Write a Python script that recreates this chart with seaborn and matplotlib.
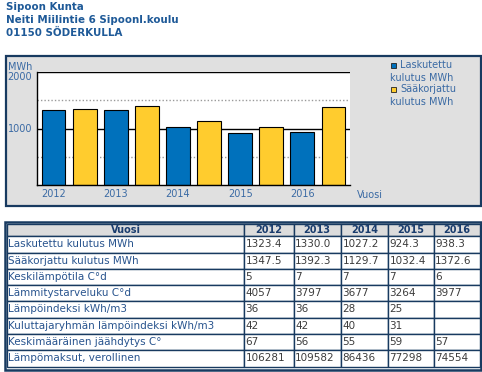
"""
Heating consumption chart + yearly table for one property.
"""
import matplotlib
matplotlib.use("Agg")
import matplotlib.pyplot as plt
from matplotlib.patches import Rectangle
import pandas as pd
import seaborn as sns

# --- data -------------------------------------------------------------------
title_lines = ["Sipoon Kunta", "Neiti Miilintie 6 Sipoonl.koulu", "01150 SÖDERKULLA"]

years = ["2012", "2013", "2014", "2015", "2016"]
laskutettu = [1323.4, 1330.0, 1027.2, 924.3, 938.3]
saakorjattu = [1347.5, 1392.3, 1129.7, 1032.4, 1372.6]
series_names = ["Laskutettu kulutus MWh", "Sääkorjattu kulutus MWh"]
legend_lines = [("Laskutettu", "kulutus MWh"), ("Sääkorjattu", "kulutus MWh")]

y_solid = [1000, 2000]
y_dotted = [500, 1500]

table_header = "Vuosi"
row_labels = [
    "Laskutettu kulutus MWh",
    "Sääkorjattu kulutus MWh",
    "Keskilämpötila C°d",
    "Lämmitystarveluku C°d",
    "Lämpöindeksi kWh/m3",
    "Kuluttajaryhmän lämpöindeksi kWh/m3",
    "Keskimääräinen jäähdytys C°",
    "Lämpömaksut, verollinen",
]
keskilampotila = ["5", "7", "7", "7", "6"]
lammitystarveluku = ["4057", "3797", "3677", "3264", "3977"]
lampoindeksi = ["36", "36", "28", "25", ""]
ryhman_indeksi = ["42", "42", "40", "31", ""]
jaahdytys = ["67", "56", "55", "59", "57"]
lampomaksut = ["106281", "109582", "86436", "77298", "74554"]

# --- style ------------------------------------------------------------------
sns.set_style("white")
plt.rcParams["font.family"] = ["DejaVu Sans"]

BLUE = "#0071bc"
YELLOW = "#ffcc2e"
NAVY = "#183a60"
TXT = "#3a6aa4"
TITLE = "#1f5a98"
ROWTXT = "#28548e"
NUMTXT = "#3c3c3c"

W, H = 482, 372
fig = plt.figure(figsize=(W / 100, H / 100), dpi=100)
fig.patch.set_facecolor("white")

# background axes in pixel coordinates
bg = fig.add_axes([0, 0, 1, 1])
bg.set_xlim(0, W)
bg.set_ylim(H, 0)
bg.axis("off")

for i, line in enumerate(title_lines):
    bg.text(6.5, 7.5 + i * 12.7, line, fontsize=7.4, fontweight="bold",
            color=TITLE, va="center", ha="left")

# chart panel
bg.add_patch(Rectangle((5.5, 55.5), 475, 150.5, facecolor="#e0e0e0",
                       edgecolor=NAVY, lw=1.6))
bg.text(8, 67, "MWh", fontsize=7, color=TXT, va="center", ha="left")
bg.text(357, 194.5, "Vuosi", fontsize=7, color=TXT, va="center", ha="left")

# legend (text wraps under the swatch like the original)
for i, ((first, second), col) in enumerate(zip(legend_lines, [BLUE, YELLOW])):
    y0 = 65.5 + i * 24
    bg.add_patch(Rectangle((391, y0 - 2.5), 5, 5, facecolor=col,
                           edgecolor="#222222", lw=0.6))
    bg.text(400, y0, first, fontsize=7, color=TXT, va="center", ha="left")
    bg.text(390, y0 + 12.5, second, fontsize=7, color=TXT, va="center", ha="left")

# --- bar chart ----------------------------------------------------------------
rows = []
for yr, a, b in zip(years, laskutettu, saakorjattu):
    rows.append({"bar": yr + "a", "value": a, "series": series_names[0]})
    rows.append({"bar": yr + "b", "value": b, "series": series_names[1]})
df = pd.DataFrame(rows)

ax = fig.add_axes([37 / W, 1 - 185 / H, 313 / W, 113 / H])
ax.set_facecolor("white")
sns.barplot(data=df, x="bar", y="value", hue="series", order=df["bar"].tolist(),
            palette=[BLUE, YELLOW], saturation=1, dodge=False, width=0.77,
            edgecolor="black", linewidth=0.8, legend=False, ax=ax, zorder=2)

for v in y_solid:
    ax.axhline(v, color="black", lw=1.0, zorder=1)
for v in y_dotted:
    ax.axhline(v, color="#9a9a9a", lw=1.0, ls=(0, (1, 1.5)), zorder=1)

ax.set_ylim(0, max(y_solid))
ax.set_xlim(-0.53, len(df) - 0.47)
ax.set_yticks(y_solid, [str(v) for v in y_solid])
ax.set_xticks(list(range(0, len(df), 2)), years)
ax.tick_params(length=0, labelsize=7, labelcolor=TXT)
ax.tick_params(axis="y", pad=3.6)
ax.tick_params(axis="x", pad=3)
ax.get_yticklabels()[-1].set_va("top")
ax.set_xlabel("")
ax.set_ylabel("")
for s in ["top", "right"]:
    ax.spines[s].set_visible(False)
for s in ["left", "bottom"]:
    ax.spines[s].set_color("black")
    ax.spines[s].set_linewidth(1.0)

# --- table --------------------------------------------------------------------
table_rows = [
    [f"{v:.1f}" for v in laskutettu],
    [f"{v:.1f}" for v in saakorjattu],
    keskilampotila,
    lammitystarveluku,
    lampoindeksi,
    ryhman_indeksi,
    jaahdytys,
    lampomaksut,
]
col_x = [7, 244, 293.5, 341, 388, 433.5, 479.5]
row_y = [224, 236, 252.5, 268.8, 285, 301.3, 317.6, 334, 350.2, 366.5]

bg.add_patch(Rectangle((5, 221.5), 476, 148, facecolor="white",
                       edgecolor=NAVY, lw=1.8))
for r in range(len(row_y) - 1):
    for c in range(len(col_x) - 1):
        fc = "#dcdcdc" if r == 0 else "white"
        bg.add_patch(Rectangle((col_x[c], row_y[r]), col_x[c + 1] - col_x[c],
                               row_y[r + 1] - row_y[r], facecolor=fc,
                               edgecolor=NAVY, lw=1.0))

yc = (row_y[0] + row_y[1]) / 2
bg.text((col_x[0] + col_x[1]) / 2, yc, table_header, fontsize=7,
        fontweight="bold", color="#1a3d6e", ha="center", va="center")
for c, yr in enumerate(years):
    bg.text((col_x[c + 1] + col_x[c + 2]) / 2, yc, yr, fontsize=7,
            fontweight="bold", color="#1a3d6e", ha="center", va="center")

for r, (label, vals) in enumerate(zip(row_labels, table_rows)):
    yc = (row_y[r + 1] + row_y[r + 2]) / 2
    bg.text(col_x[0] + 1.5, yc, label, fontsize=7.5, color=ROWTXT,
            ha="left", va="center")
    for c, val in enumerate(vals):
        bg.text(col_x[c + 1] + 1.5, yc, val, fontsize=7.5, color=NUMTXT,
                ha="left", va="center")

fig.savefig("out.png", dpi=100)
